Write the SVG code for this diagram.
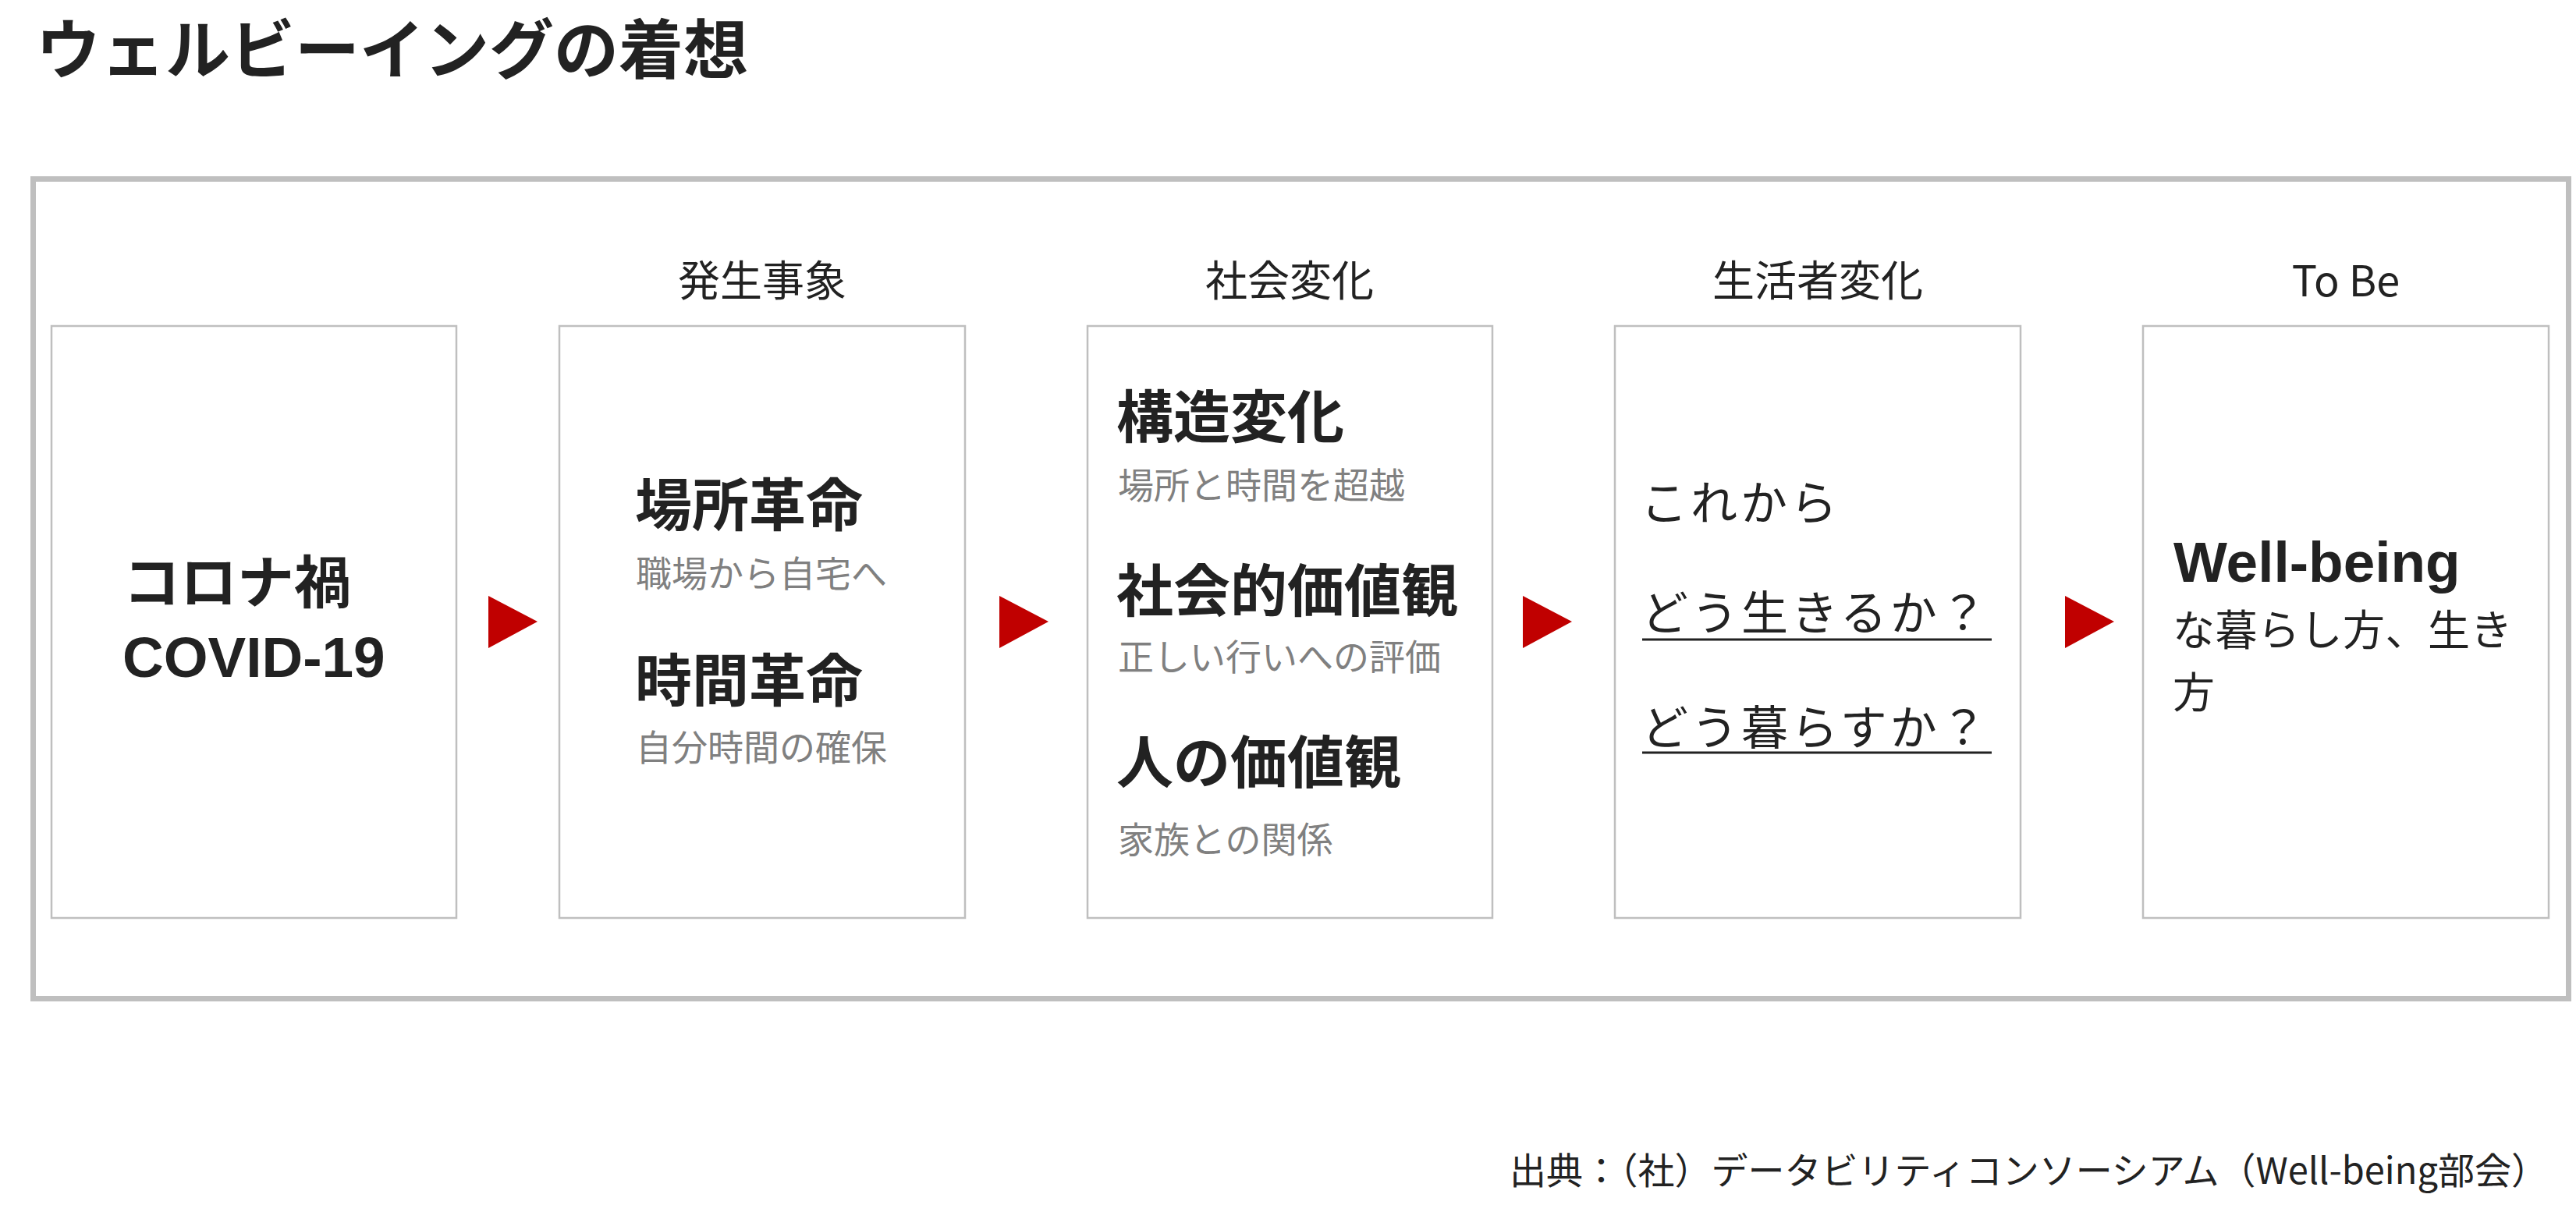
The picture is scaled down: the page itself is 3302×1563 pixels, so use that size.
<svg xmlns="http://www.w3.org/2000/svg" width="3302" height="1563" viewBox="0 0 3302 1563">
<style>
.jp{font-family:"Noto Sans CJK JP","Noto Sans",sans-serif;}
.lat{font-family:"Liberation Sans",Arial,sans-serif;}
.title{font-size:83px;font-weight:bold;fill:#222;}
.hdr{font-size:54px;fill:#222;}
.big{font-size:73px;font-weight:bold;fill:#222;}
.sub{font-size:46px;fill:#808080;}
.q{font-size:60px;fill:#222;letter-spacing:4px;}
.tb{font-size:54px;fill:#222;}
.box{fill:#fff;stroke:#bfbfbf;stroke-width:2.5;}
.arrow{fill:#c00000;}
.ul{stroke:#222;stroke-width:3;}
</style>
<rect width="3302" height="1563" fill="#fff"/>
<text class="jp title" x="46" y="94">ウェルビーイングの着想</text>
<rect id="frame" x="42.5" y="229.5" width="3250" height="1051" fill="none" stroke="#bfbfbf" stroke-width="7"/>

<g id="headers">
<text class="jp hdr" x="977" y="380" text-anchor="middle">発生事象</text>
<text class="jp hdr" x="1653" y="380" text-anchor="middle">社会変化</text>
<text class="jp hdr" x="2330" y="380" text-anchor="middle">生活者変化</text>
<text class="jp hdr" x="3007" y="380" text-anchor="middle">To Be</text>
</g>

<g id="node-covid">
<rect class="box" x="66" y="418" width="519" height="759"/>
<text class="jp big" x="158" y="773">コロナ禍</text>
<text class="lat big" x="157" y="868">COVID-19</text>
</g>

<g id="node-event">
<rect class="box" x="717" y="418" width="520" height="759"/>
<text class="jp big" x="814" y="674">場所革命</text>
<text class="jp sub" x="815" y="752">職場から自宅へ</text>
<text class="jp big" x="814" y="899">時間革命</text>
<text class="jp sub" x="815" y="975">自分時間の確保</text>
</g>

<g id="node-society">
<rect class="box" x="1394" y="418" width="519" height="759"/>
<text class="jp big" x="1431" y="561">構造変化</text>
<text class="jp sub" x="1433" y="639">場所と時間を超越</text>
<text class="jp big" x="1431" y="784">社会的価値観</text>
<text class="jp sub" x="1433" y="859">正しい行いへの評価</text>
<text class="jp big" x="1431" y="1004">人の価値観</text>
<text class="jp sub" x="1433" y="1093">家族との関係</text>
</g>

<g id="node-consumer">
<rect class="box" x="2070" y="418" width="520" height="759"/>
<text class="jp q" x="2103" y="667">これから</text>
<text class="jp q" x="2104" y="808">どう生きるか？</text>
<line class="ul" x1="2105" y1="820" x2="2553" y2="820"/>
<text class="jp q" x="2104" y="955">どう暮らすか？</text>
<line class="ul" x1="2105" y1="965" x2="2553" y2="965"/>
</g>

<g id="node-tobe">
<rect class="box" x="2747" y="418" width="520" height="759"/>
<text class="lat big" x="2786" y="746">Well-being</text>
<text class="jp tb" x="2785" y="828" letter-spacing="0.5">な暮らし方、生き</text>
<text class="jp tb" x="2785" y="908">方</text>
</g>

<g id="connectors">
<polygon class="arrow" points="626,764 689,797 626,831"/>
<polygon class="arrow" points="1281,764 1344,797 1281,831"/>
<polygon class="arrow" points="1952,764 2015,797 1952,831"/>
<polygon class="arrow" points="2647,764 2710,797 2647,831"/>
</g>

<text class="jp" x="1935" y="1518" font-size="47" fill="#222">出典：（社）データビリティコンソーシアム（Well-being部会）</text>
</svg>
